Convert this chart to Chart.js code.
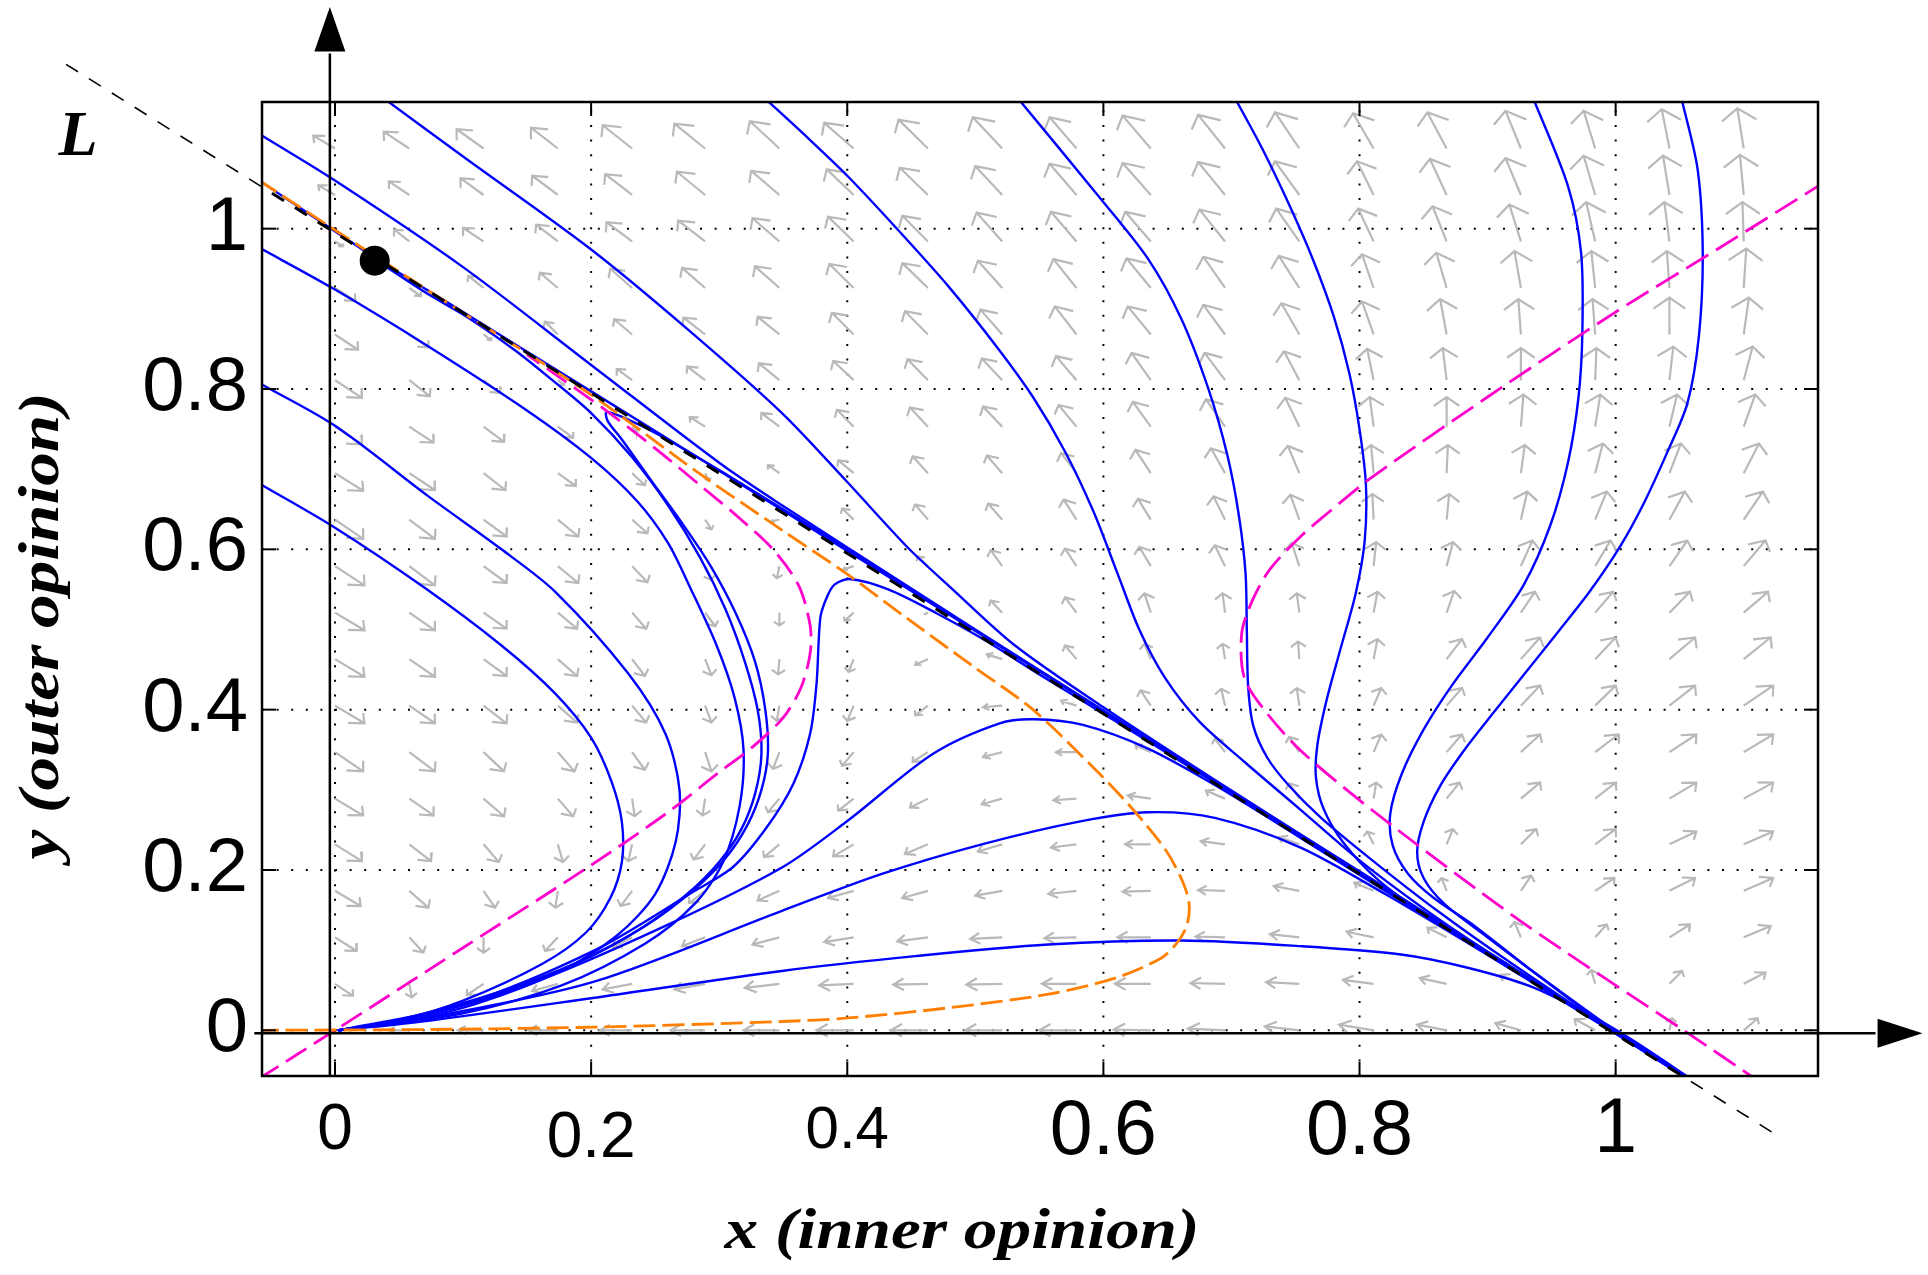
<!DOCTYPE html>
<html lang="en">
<head>
<meta charset="utf-8">
<title>Phase portrait: inner and outer opinion</title>
<script src="https://cdn.jsdelivr.net/npm/chart.js@4.4.1/dist/chart.umd.min.js"></script>
<style>
  html, body { margin: 0; padding: 0; background: #ffffff; }
  canvas { display: block; }
</style>
</head>
<body>
<canvas id="phase" width="1928" height="1275"></canvas>
<script>
// ---------------- data ----------------
const xTickValues = [0, 0.2, 0.4, 0.6, 0.8, 1];
const xTickLabels = ['0', '0.2', '0.4', '0.6', '0.8', '1'];
const yTickValues = [0, 0.2, 0.4, 0.6, 0.8, 1];
const yTickLabels = ['0', '0.2', '0.4', '0.6', '0.8', '1'];

// fixed point on the invariant line L
const fixedPoint = [0.031, 0.96];

// the line L (x + y = const)
const lineL = [[-0.21, 1.205], [1.13, -0.135]];

// blue trajectories
const trajOnL = [[-0.06,1.061],[0.031,0.964],[0.1,0.896],[0.2,0.797],[0.3,0.698],[0.4,0.598],[0.5,0.498],[0.6,0.398],[0.7,0.297],[0.8,0.197],[0.9,0.097],[1.0,-0.003],[1.062,-0.066]];
const trajP1 = [[-0.06,1.119],[0,1.06],[0.1,0.952],[0.2,0.83],[0.3,0.708],[0.349,0.655],[0.45,0.551],[0.55,0.449],[0.7,0.298],[0.85,0.147],[1.0,-0.003],[1.062,-0.066]];
const trajT1 = [[0.036,1.165],[0.1,1.09],[0.2,0.974],[0.275,0.875],[0.349,0.77],[0.4,0.684],[0.448,0.601],[0.481,0.552],[0.531,0.48],[0.6,0.403],[0.7,0.299],[0.8,0.198],[0.9,0.098],[1.0,-0.003],[1.062,-0.066]];
const trajT2 = [[0.334,1.165],[0.37,1.112],[0.4,1.066],[0.437,1.003],[0.479,0.928],[0.518,0.85],[0.545,0.79],[0.57,0.722],[0.592,0.648],[0.611,0.57],[0.628,0.5],[0.648,0.44],[0.675,0.385],[0.71,0.335],[0.754,0.275],[0.8,0.212],[0.85,0.152],[0.9,0.098],[1.0,-0.003],[1.062,-0.066]];
const trajT3 = [[0.532,1.165],[0.598,1.037],[0.635,0.962],[0.661,0.887],[0.682,0.8],[0.697,0.716],[0.706,0.64],[0.711,0.57],[0.712,0.5],[0.713,0.43],[0.717,0.38],[0.728,0.34],[0.745,0.305],[0.77,0.265],[0.81,0.212],[0.86,0.15],[0.92,0.082],[1.0,-0.003],[1.062,-0.066]];
const trajT4 = [[0.702,1.165],[0.724,1.1],[0.745,1.03],[0.764,0.96],[0.78,0.89],[0.792,0.82],[0.8,0.75],[0.805,0.68],[0.804,0.61],[0.797,0.545],[0.785,0.475],[0.774,0.41],[0.767,0.355],[0.766,0.315],[0.772,0.276],[0.787,0.235],[0.815,0.187],[0.855,0.14],[0.91,0.085],[1.0,-0.003],[1.062,-0.066]];
const trajT5 = [[0.935,1.165],[0.9626,1.054],[0.973,0.97],[0.974,0.87],[0.971,0.79],[0.963,0.71],[0.949,0.63],[0.928,0.555],[0.9,0.49],[0.872,0.43],[0.85,0.375],[0.833,0.32],[0.824,0.27],[0.826,0.23],[0.838,0.195],[0.858,0.165],[0.89,0.13],[0.93,0.08],[1.0,-0.003],[1.062,-0.066]];
const trajT6 = [[1.051,1.165],[1.064,1.074],[1.068,0.97],[1.065,0.866],[1.056,0.782],[1.04,0.72],[1.022,0.6575],[1.004,0.605],[0.98,0.548],[0.955,0.497],[0.93,0.447],[0.905,0.397],[0.882,0.35],[0.863,0.305],[0.85,0.26],[0.845,0.222],[0.85,0.19],[0.866,0.158],[0.895,0.122],[0.94,0.068],[1.0,-0.001],[1.062,-0.066]];
const trajP2 = [[-0.06,0.977],[0,0.924],[0.073,0.853],[0.151,0.772],[0.2,0.714],[0.236,0.66],[0.26,0.608],[0.278,0.55],[0.298,0.48],[0.312,0.415],[0.319,0.35],[0.316,0.28],[0.303,0.21],[0.281,0.158],[0.242,0.108],[0.177,0.056],[0.099,0.021],[0.003,0]];
const trajP3 = [[-0.06,0.808],[0,0.754],[0.073,0.666],[0.13,0.6],[0.172,0.547],[0.229,0.445],[0.258,0.37],[0.269,0.3],[0.266,0.235],[0.25,0.17],[0.22,0.118],[0.175,0.073],[0.11,0.033],[0.05,0.01],[0.003,0]];
const trajP4 = [[-0.06,0.683],[0,0.627],[0.07,0.552],[0.13,0.48],[0.172,0.42],[0.2,0.365],[0.216,0.31],[0.224,0.26],[0.224,0.21],[0.215,0.165],[0.196,0.122],[0.162,0.083],[0.1,0.037],[0.047,0.011],[0.003,0]];
const trajD1 = [[0.031,0.962],[0.07,0.921],[0.104,0.889],[0.14,0.849],[0.169,0.812],[0.2,0.77],[0.232,0.715],[0.26,0.655],[0.285,0.59],[0.305,0.525],[0.32,0.46],[0.33,0.4],[0.333,0.345],[0.328,0.295],[0.317,0.25],[0.3,0.21],[0.275,0.17],[0.24,0.128],[0.19,0.085],[0.125,0.046],[0.047,0.012],[0.003,0]];
const trajD2 = [[1.062,-0.066],[1.0,-0.003],[0.9,0.097],[0.8,0.198],[0.7,0.298],[0.6,0.399],[0.5,0.499],[0.4,0.6],[0.349,0.651],[0.307,0.692],[0.255,0.741],[0.226,0.764],[0.212,0.771],[0.213,0.76],[0.224,0.737],[0.245,0.69],[0.27,0.635],[0.293,0.58],[0.313,0.52],[0.328,0.46],[0.336,0.4],[0.338,0.345],[0.333,0.3],[0.322,0.256],[0.305,0.215],[0.28,0.175],[0.242,0.13],[0.19,0.085],[0.125,0.044],[0.05,0.012],[0.003,0]];
const trajHook = [[0.003,0],[0.099,0.032],[0.203,0.1],[0.281,0.174],[0.311,0.204],[0.337,0.253],[0.358,0.308],[0.371,0.37],[0.376,0.432],[0.379,0.515],[0.384,0.54],[0.39,0.556],[0.402,0.563],[0.432,0.55],[0.47,0.52],[0.505,0.489],[0.55,0.444],[0.6,0.395],[0.7,0.296],[0.8,0.196],[0.9,0.096],[1.0,-0.004],[1.062,-0.066]];
const trajHump = [[0.003,0],[0.073,0.02],[0.151,0.057],[0.255,0.128],[0.349,0.203],[0.4,0.261],[0.467,0.345],[0.519,0.383],[0.546,0.388],[0.584,0.381],[0.634,0.352],[0.687,0.306],[0.754,0.24],[0.85,0.144],[0.95,0.045],[1.0,-0.004],[1.062,-0.066]];
const trajLow = [[0.003,0],[0.08,0.018],[0.203,0.061],[0.349,0.149],[0.427,0.195],[0.505,0.232],[0.583,0.261],[0.635,0.272],[0.687,0.265],[0.754,0.228],[0.82,0.17],[0.9,0.094],[1.0,-0.004],[1.062,-0.066]];
const trajFloor = [[0.003,0],[0.073,0.012],[0.2,0.04],[0.349,0.074],[0.453,0.0925],[0.557,0.107],[0.661,0.112],[0.754,0.105],[0.8325,0.0946],[0.8845,0.078],[0.9365,0.053],[0.9886,0.0112],[1.0146,-0.0138],[1.062,-0.064]];

// nullclines
const nullclineOrange = [[-0.06,1.061],[0.031,0.966],[0.1,0.895],[0.198,0.795],[0.285,0.694],[0.349,0.624],[0.4,0.569],[0.45,0.51],[0.5,0.452],[0.545,0.4],[0.597,0.32],[0.625,0.272],[0.649,0.224],[0.662,0.185],[0.667,0.157],[0.665,0.13],[0.657,0.108],[0.645,0.09],[0.609,0.065],[0.557,0.045],[0.479,0.028],[0.401,0.0154],[0.349,0.011],[0.203,0.004],[0.073,0.001],[-0.06,0]];
const nullclineMagentaLeft = [[-0.06,-0.061],[0,0],[0.1,0.103],[0.2,0.206],[0.26,0.272],[0.3,0.322],[0.325,0.352],[0.35,0.39],[0.364,0.428],[0.371,0.47],[0.371,0.505],[0.362,0.555],[0.342,0.6],[0.315,0.64],[0.285,0.68],[0.25,0.726],[0.211,0.774],[0.174,0.816],[0.15,0.843]];
const nullclineMagentaRight = [[1.165,1.06],[1.08,0.975],[0.999,0.895],[0.9,0.79],[0.809,0.689],[0.775,0.645],[0.754,0.616],[0.73,0.575],[0.716,0.535],[0.708,0.495],[0.71,0.44],[0.726,0.399],[0.754,0.349],[0.812,0.272],[0.926,0.136],[1.054,-0.001],[1.115,-0.067]];

// direction field: arrow tails on a square grid, components in thousandths of an axis unit
const quiverGrid = [0, 0.058, 0.116, 0.174, 0.232, 0.289, 0.347, 0.405, 0.463, 0.521, 0.579, 0.637, 0.695, 0.753, 0.811, 0.868, 0.926, 0.984, 1.042, 1.1];
// rows run from y = 0 (first) to y = 1.1 (last)
const quiverU = [
  [0,-16,-20,-23,-25,-27,-28,-29,-29,-29,-29,-29,-29,-27,-27,-23,-20,-16,2,11],
  [14,2,-13,-20,-23,-24,-27,-27,-27,-28,-27,-28,-27,-26,-24,-21,-16,-3,10,17],
  [17,11,0,-10,-15,-18,-21,-23,-24,-25,-25,-26,-23,-23,-21,-15,-5,9,16,21],
  [20,15,9,-2,-9,-12,-17,-20,-20,-21,-22,-22,-21,-20,-15,-4,8,15,20,23],
  [21,17,12,4,-3,-9,-12,-16,-18,-19,-20,-20,-19,-16,-5,5,12,16,21,23],
  [22,19,16,12,2,-2,-9,-12,-14,-16,-18,-18,-15,-8,2,10,15,16,21,23],
  [22,20,16,13,10,5,-5,-9,-12,-15,-16,-12,-8,-8,6,12,15,18,21,23],
  [23,20,18,15,11,5,-2,-5,-10,-15,-12,-8,-3,-2,6,12,15,16,20,23],
  [23,20,18,15,10,5,-1,-4,-10,-12,-9,-5,-2,-1,3,12,15,16,20,21],
  [23,20,18,15,11,8,0,-7,-3,-9,-9,-5,-2,-2,3,6,11,14,16,19],
  [23,20,18,16,12,5,-2,-8,-8,-9,-9,-9,-8,-6,2,5,9,12,14,17],
  [22,20,18,16,12,5,-6,-9,-10,-11,-10,-10,-9,-7,-1,2,5,9,12,15],
  [22,20,17,14,10,3,-9,-12,-12,-12,-12,-12,-11,-9,-2,1,3,6,9,12],
  [21,19,16,12,4,-12,-14,-13,-14,-15,-14,-14,-15,-11,-3,0,2,4,6,9],
  [21,16,13,5,-12,-14,-16,-16,-16,-16,-16,-15,-16,-12,-5,-3,0,1,3,7],
  [18,15,6,-10,-14,-17,-17,-17,-18,-17,-17,-18,-17,-14,-9,-5,-2,-2,0,4],
  [16,9,-12,-14,-17,-18,-19,-19,-20,-19,-18,-19,-17,-16,-9,-8,-5,-3,-2,2],
  [6,-12,-16,-17,-20,-21,-21,-20,-20,-20,-20,-20,-20,-18,-12,-11,-9,-7,-4,-1],
  [-13,-16,-18,-20,-21,-22,-22,-21,-22,-21,-21,-22,-21,-19,-13,-13,-12,-9,-5,-3],
  [-17,-20,-21,-21,-23,-24,-23,-23,-23,-23,-21,-22,-21,-19,-16,-15,-12,-9,-6,-5]
];
const quiverV = [
  [0,0,0,0,0,0,0,0,0,0,0,1,2,5,7,7,9,14,15,15],
  [-15,-17,-14,-9,-7,-7,-5,-2,-1,-1,0,0,1,2,5,7,11,17,16,14],
  [-17,-19,-19,-17,-12,-11,-9,-6,-5,-2,-1,0,1,4,7,12,19,16,16,14],
  [-19,-21,-21,-21,-19,-15,-12,-9,-9,-6,-4,-1,1,6,10,16,19,16,16,16],
  [-21,-21,-22,-22,-21,-19,-16,-15,-12,-9,-4,0,4,9,16,19,19,19,16,16],
  [-21,-21,-22,-22,-22,-21,-17,-15,-11,-7,-2,4,10,19,20,20,20,20,20,20],
  [-24,-24,-24,-24,-22,-24,-21,-17,-12,-6,0,9,17,19,22,22,22,22,22,22],
  [-22,-22,-22,-21,-21,-21,-19,-19,-12,-2,6,19,21,22,22,22,25,25,25,25],
  [-22,-22,-21,-21,-21,-20,-19,-16,-7,6,17,19,19,22,25,25,27,27,27,27],
  [-22,-22,-20,-20,-20,-17,-16,-10,-2,15,19,24,24,24,26,27,26,26,26,26],
  [-24,-24,-21,-21,-20,-17,-15,-4,12,20,22,24,26,29,30,30,32,32,32,32],
  [-24,-24,-21,-21,-17,-12,-2,14,19,20,25,26,29,31,32,32,35,35,35,35],
  [-22,-21,-21,-16,-15,-9,10,16,21,22,25,29,31,34,35,35,35,37,37,37],
  [-22,-20,-19,-14,-6,12,17,21,24,25,27,31,34,36,37,37,40,40,40,40],
  [-22,-20,-16,-6,14,17,21,24,26,27,30,34,34,36,39,40,40,40,42,42],
  [-19,-16,-7,16,19,21,22,27,29,31,35,35,37,39,41,44,44,44,46,46],
  [-16,-10,15,19,24,25,27,30,31,34,36,37,39,40,42,44,46,46,46,49],
  [-6,15,17,21,24,26,29,31,32,36,37,37,40,41,41,44,46,49,49,49],
  [12,17,21,24,26,29,30,32,34,36,39,40,41,42,42,45,46,49,49,50],
  [16,21,24,26,29,31,34,32,36,39,39,41,42,45,44,45,47,47,49,50]
];

// ---------------- chart building ----------------
const toXY = pts => pts.map(([x, y]) => ({ x, y }));

// arrow shafts and heads as one broken polyline (head shape like MATLAB quiver)
function quiverPolyline() {
  const HEAD_LEN = 0.3, HEAD_WIDTH = 0.9;
  const pts = [];
  quiverGrid.forEach((gy, j) => {
    quiverGrid.forEach((gx, i) => {
      const u = quiverU[j][i] / 1000, v = quiverV[j][i] / 1000;
      if (u === 0 && v === 0) return;
      const tx = gx + u, ty = gy + v;
      pts.push({ x: gx, y: gy }, { x: tx, y: ty }, { x: tx, y: null });
      pts.push(
        { x: tx - HEAD_LEN * (u + HEAD_WIDTH * v), y: ty - HEAD_LEN * (v - HEAD_WIDTH * u) },
        { x: tx, y: ty },
        { x: tx - HEAD_LEN * (u - HEAD_WIDTH * v), y: ty - HEAD_LEN * (v + HEAD_WIDTH * u) },
        { x: tx, y: null }
      );
    });
  });
  return pts;
}

const BLUE = '#0000ff';
function trajectory(pts) {
  return {
    data: toXY(pts), showLine: true, borderColor: BLUE, borderWidth: 2.4,
    pointRadius: 0, tension: 0.3, capBezierPoints: false,
    borderCapStyle: 'round', borderJoinStyle: 'round', order: 5
  };
}
function nullcline(pts, color, dash) {
  return {
    data: toXY(pts), showLine: true, borderColor: color, borderWidth: 2.8,
    borderDash: dash, pointRadius: 0, tension: 0.3, capBezierPoints: false, order: 3
  };
}

const datasets = [
  { data: [{ x: fixedPoint[0], y: fixedPoint[1] }], pointRadius: 15, pointBackgroundColor: '#000',
    pointBorderWidth: 0, showLine: false, order: 0 },
  { data: toXY(lineL), showLine: true, borderColor: '#000', borderWidth: 1.6, borderDash: [14, 13],
    pointRadius: 0, clip: false, order: 2 },
  { data: toXY(lineL), showLine: true, borderColor: '#000', borderWidth: 3, borderDash: [14, 13],
    pointRadius: 0, order: 1 },
  nullcline(nullclineOrange, '#ff8000', [22, 7]),
  nullcline(nullclineMagentaLeft, '#ff00cc', [24, 9]),
  nullcline(nullclineMagentaRight, '#ff00cc', [26, 9]),
  ...[trajOnL, trajP1, trajT1, trajT2, trajT3, trajT4, trajT5, trajT6, trajP2, trajP3, trajP4,
      trajD1, trajD2, trajHook, trajHump, trajLow, trajFloor].map(trajectory),
  { data: quiverPolyline(), showLine: true, borderColor: '#b9b9b9', borderWidth: 2.2,
    pointRadius: 0, tension: 0, spanGaps: false, borderJoinStyle: 'miter', order: 10 }
];

// per-label font size and line box for the bottom axis
const X_TICK_STYLE = { '0': [64, 110], '0.2': [64, 127], '0.4': [60, 111], '0.6': [77, 113], '0.8': [77, 113], '1': [77, 109] };

// dotted grid, framed box with inward ticks, arrow axes, line label and axis titles
const phaseDecor = {
  id: 'phaseDecor',
  beforeDatasetsDraw(chart) {
    const { ctx, chartArea: a, scales: { x, y } } = chart;
    ctx.save();
    ctx.beginPath();
    ctx.rect(a.left, a.top, a.right - a.left, a.bottom - a.top);
    ctx.clip();
    ctx.strokeStyle = '#000';
    ctx.lineWidth = 2;
    ctx.setLineDash([2, 12.6]);
    xTickValues.forEach(v => {
      const px = x.getPixelForValue(v);
      ctx.beginPath(); ctx.moveTo(px, a.bottom); ctx.lineTo(px, a.top); ctx.stroke();
    });
    yTickValues.forEach(v => {
      const py = y.getPixelForValue(v);
      ctx.beginPath(); ctx.moveTo(a.left, py); ctx.lineTo(a.right, py); ctx.stroke();
    });
    ctx.restore();
  },
  afterDatasetsDraw(chart) {
    const { ctx, chartArea: a, scales: { x, y } } = chart;
    const seg = (x1, y1, x2, y2) => { ctx.beginPath(); ctx.moveTo(x1, y1); ctx.lineTo(x2, y2); ctx.stroke(); };
    ctx.save();
    ctx.setLineDash([]);
    ctx.strokeStyle = '#000';
    ctx.fillStyle = '#000';

    // box
    ctx.lineWidth = 2.5;
    ctx.strokeRect(a.left, a.top, a.right - a.left, a.bottom - a.top);

    // inward tick marks
    ctx.lineWidth = 2;
    const TL = 14;
    xTickValues.forEach(v => {
      const px = x.getPixelForValue(v);
      seg(px, a.bottom, px, a.bottom - TL);
      seg(px, a.top, px, a.top + TL);
    });
    yTickValues.forEach(v => {
      const py = y.getPixelForValue(v);
      seg(a.left, py, a.left + TL, py);
      seg(a.right, py, a.right - TL, py);
    });

    // arrow axes through the origin
    ctx.lineWidth = 2.5;
    const ax = x.getPixelForValue(-0.004);
    const ay = y.getPixelForValue(-0.0036);
    const vBase = y.getPixelForValue(1.221), vTip = y.getPixelForValue(1.2765);
    seg(ax, a.bottom, ax, vBase + 2);
    ctx.beginPath(); ctx.moveTo(ax, vTip); ctx.lineTo(ax - 15.5, vBase); ctx.lineTo(ax + 15.5, vBase); ctx.closePath(); ctx.fill();
    const hBase = x.getPixelForValue(1.2045), hTip = x.getPixelForValue(1.2396);
    seg(x.getPixelForValue(-0.063), ay, hBase - 2, ay);
    ctx.beginPath(); ctx.moveTo(hTip, ay); ctx.lineTo(hBase, ay - 14.5); ctx.lineTo(hBase, ay + 14.5); ctx.closePath(); ctx.fill();

    // label of the line L
    ctx.font = 'italic bold 64px "Liberation Serif", "DejaVu Serif", serif';
    ctx.textAlign = 'left';
    ctx.textBaseline = 'alphabetic';
    ctx.fillText('L', x.getPixelForValue(-0.216), y.getPixelForValue(1.0915));

    // axis titles
    ctx.font = 'italic bold 58px "Liberation Serif", "DejaVu Serif", serif';
    ctx.textAlign = 'center';
    ctx.save();
    ctx.translate((a.left + a.right) / 2 - 78, a.bottom + 172);
    ctx.scale(1.16, 1);
    ctx.fillText('x (inner opinion)', 0, 0);
    ctx.restore();
    ctx.save();
    ctx.translate(a.left - 204, (a.top + a.bottom) / 2 + 37);
    ctx.rotate(-Math.PI / 2);
    ctx.scale(1.16, 1);
    ctx.fillText('y (outer opinion)', 0, 0);
    ctx.restore();

    ctx.restore();
  }
};

new Chart(document.getElementById('phase'), {
  type: 'scatter',
  data: { datasets },
  options: {
    responsive: false,
    devicePixelRatio: 1,
    animation: false,
    events: [],
    layout: { autoPadding: false, padding: { left: 0, top: 102, right: 110, bottom: 0 } },
    plugins: { legend: { display: false }, tooltip: { enabled: false } },
    elements: { point: { radius: 0 } },
    scales: {
      x: {
        type: 'linear', position: 'bottom', min: -0.057, max: 1.158,
        afterBuildTicks: s => { s.ticks = xTickValues.map(v => ({ value: v })); },
        afterFit: s => { s.height = 199; },
        grid: { display: false, drawTicks: false },
        border: { display: false },
        ticks: {
          autoSkip: false, maxRotation: 0, minRotation: 0, padding: 0, color: '#000',
          callback: (v, i) => xTickLabels[i],
          font: ctx => {
            const lbl = xTickLabels[ctx.index];
            const st = X_TICK_STYLE[lbl];
            if (!st) return { family: '"Liberation Sans", Arial, sans-serif', size: 77 };
            return { family: '"Liberation Sans", Arial, sans-serif', size: st[0], lineHeight: st[1] + 'px' };
          }
        }
      },
      y: {
        type: 'linear', position: 'left', min: -0.057, max: 1.158,
        afterBuildTicks: s => { s.ticks = yTickValues.map(v => ({ value: v })); },
        afterFit: s => { s.width = 262; },
        grid: { display: false, drawTicks: false },
        border: { display: false },
        ticks: {
          autoSkip: false, padding: 14, color: '#000',
          callback: (v, i) => yTickLabels[i],
          font: { family: '"Liberation Sans", Arial, sans-serif', size: 76 }
        }
      }
    }
  },
  plugins: [phaseDecor]
});
</script>
</body>
</html>
